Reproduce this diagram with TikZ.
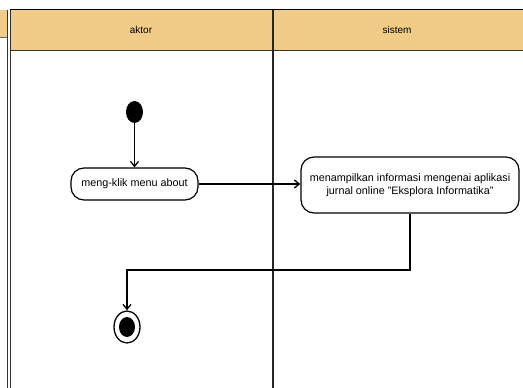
\documentclass[tikz,border=0pt]{standalone}
\usepackage{fontspec}
\setmainfont{Liberation Sans}
\usetikzlibrary{arrows.meta,shapes.geometric}
\definecolor{hdr}{RGB}{240,204,136}
\tikzset{
  lane/.style={draw=black!85, line width=1.2pt},
  action/.style={draw, line width=1.2pt, rounded corners=13pt, align=center, font=\fontsize{10.8}{13.5}\selectfont, inner sep=3pt},
  flow/.style={draw, line width=1.3pt, -{Straight Barb[length=5pt,width=8pt]}},
  lbl/.style={font=\fontsize{10}{12}\selectfont}
}
\begin{document}
\begin{tikzpicture}[x=1pt,y=-1pt]
\useasboundingbox (0,0) rectangle (523,388);
% header
\fill[hdr] (0,10) rectangle (8,37);
\draw[black!60, line width=0.8pt] (0,37) -- (8,37);
\fill[hdr] (10,10) rectangle (523,50);
\draw[line width=1.5pt] (10,9.5) -- (523,9.5);
\draw[black!80, line width=1pt] (10,50) -- (523,50);
% left double boundary
\draw[black!80, line width=1pt] (7.5,10) -- (7.5,388);
\draw[black!80, line width=1pt] (10.5,10) -- (10.5,388);
% lane divider
\draw[lane] (273,10) -- (273,388);
\node[lbl] (haktor) at (141,30) {aktor};
\node[lbl] (hsistem) at (397,30) {sistem};
% nodes
\node[ellipse, fill=black, minimum width=17pt, minimum height=22pt, inner sep=0pt] (start) at (134.5,112) {};
\node[action, minimum width=127pt, minimum height=32pt] (a1) at (134.5,184) {meng-klik menu about};
\node[action, minimum width=218pt, minimum height=56pt] (a2) at (410,185) {menampilkan informasi mengenai aplikasi\\jurnal online "Eksplora Informatika"};
\node[ellipse, draw, line width=1.3pt, minimum width=26pt, minimum height=32pt, inner sep=0pt] (end) at (127,327) {};
\node[ellipse, fill=black, minimum width=16pt, minimum height=20pt, inner sep=0pt] (endin) at (127,327) {};
\coordinate (b1) at (410,270);
\coordinate (b2) at (127,270);
% connectors
\draw[flow] (start) -- (a1);
\draw[flow] (a1.east) -- (a1.east -| a2.west);
\draw[flow] (a2.south) -- (b1) -- (b2) -- (end);
\end{tikzpicture}
\end{document}
